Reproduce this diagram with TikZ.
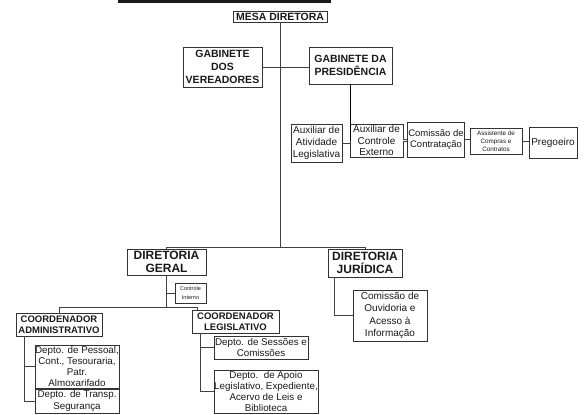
\documentclass[tikz,border=0pt]{standalone}
\usepackage{fontspec}
\setmainfont{Liberation Sans}
\usepackage{xcolor}

\tikzset{
    org/.style={draw=black!80, line width=0.7pt, align=center, inner sep=1pt, text=black!90},
    capbox/.style={org, font=\bfseries\fontsize{10.5}{13}\selectfont},
    dirbox/.style={org, font=\bfseries\fontsize{12}{13.3}\selectfont},
    coordbox/.style={org, font=\bfseries\fontsize{9.5}{10.7}\selectfont},
    unitbox/.style={org, font=\fontsize{9.8}{11.8}\selectfont},
    tinybox/.style={org, font=\fontsize{6.3}{8}\selectfont},
    link/.style={draw=black!75, line width=0.7pt}
}

\begin{document}
\begin{tikzpicture}[x=1pt,y=-1pt]
        \useasboundingbox (0,0) rectangle (584,415);
        \fill[black!90] (118,0) rectangle (331,3);

        \node[capbox, minimum width=94, minimum height=11, inner sep=0.5pt] (mesa) at (280,16.5) {MESA DIRETORA};
        \node[capbox, minimum width=79, minimum height=40] (gabver) at (222.5,67) {GABINETE\\DOS\\VEREADORES};
        \node[capbox, minimum width=83, minimum height=37] (gabpres) at (350.5,65.5) {GABINETE DA\\PRESIDÊNCIA};

        \node[unitbox, font=\fontsize{10}{11.7}\selectfont, minimum width=51, minimum height=38, inner sep=0pt] (auxleg) at (316.5,143) {Auxiliar de\\Atividade\\Legislativa};
        \node[unitbox, font=\fontsize{10}{11.7}\selectfont, minimum width=53, minimum height=33, inner sep=0pt] (auxctrl) at (376.5,140.5) {Auxiliar de\\Controle\\Externo};
        \node[unitbox, font=\fontsize{9.5}{11.7}\selectfont, minimum width=54, minimum height=35] (comcont) at (436,139.5) {Comissão de\\Contratação};
        \node[tinybox, minimum width=52, minimum height=26] (assist) at (496,141) {Assistente de\\Compras e\\Contratos};
        \node[unitbox, font=\fontsize{10}{11.7}\selectfont, minimum width=48, minimum height=31] (preg) at (553,142.5) {Pregoeiro};

        \node[dirbox, minimum width=79, minimum height=26, inner sep=0pt] (dirger) at (166.5,262) {DIRETORIA\\GERAL};
        \node[dirbox, minimum width=74, minimum height=28, inner sep=0pt] (dirjur) at (365,263) {DIRETORIA\\JURÍDICA};
        \node[tinybox, font=\fontsize{5.5}{8.5}\selectfont, minimum width=31, minimum height=20] (ctrlint) at (190.5,293) {Controle\\Interno};

        \node[coordbox, minimum width=86, minimum height=23, inner sep=0.5pt] (coordadm) at (59,324.5) {COORDENADOR\\ADMINISTRATIVO};
        \node[coordbox, minimum width=87, minimum height=23, inner sep=0.5pt] (coordleg) at (235.5,321.5) {COORDENADOR\\LEGISLATIVO};

        \node[unitbox, font=\fontsize{9.8}{11}\selectfont, minimum width=84, minimum height=43, inner sep=0pt] (dpessoal) at (77,366.5) {Depto. de Pessoal,\\Cont., Tesouraria,\\Patr.\\Almoxarifado};
        \node[unitbox, minimum width=84, minimum height=24, inner sep=0pt] (dtransp) at (77,401) {Depto. de Transp.\\Segurança};
        \node[unitbox, minimum width=94, minimum height=23, inner sep=0pt] (dsessoes) at (261,347.5) {Depto. de Sessões e\\Comissões};
        \node[unitbox, font=\fontsize{9.8}{11.2}\selectfont, minimum width=104, minimum height=43, inner sep=0pt] (dapoio) at (266,391.5) {Depto.\ \ de Apoio\\Legislativo, Expediente,\\Acervo de Leis e\\Biblioteca};
        \node[unitbox, font=\fontsize{10}{12.3}\selectfont, minimum width=74, minimum height=51] (ouvid) at (390,315.5) {Comissão de\\Ouvidoria e\\Acesso à\\Informação};

        \coordinate (bus) at (280,247);
        \coordinate (legtap) at (197,307);
        \coordinate (admspine) at ([xshift=9pt]coordadm.south west);
        \coordinate (legspine) at ([xshift=9pt]coordleg.south west);
        \coordinate (jurspine) at ([xshift=7pt]dirjur.south west);

        \draw[link] (mesa) -- (bus);
        \draw[link] (dirger.north) -- (dirger.north |- bus) -- (dirjur.north |- bus) -- (dirjur.north);
        \draw[link] (gabver.east) -- (gabpres.west |- gabver.east);
        \draw[link, line width=1.4pt, draw=black] (gabpres.south) -- (gabpres.south |- auxctrl.west);
        \draw[link] (auxleg.east) -- (auxleg.east -| auxctrl.west);
        \draw[link, double, double distance=1.6pt, line width=0.6pt] (auxctrl.east) -- (auxctrl.east -| comcont.west);
        \draw[link, line width=1.2pt] (comcont.east) -- (comcont.east -| assist.west);
        \draw[link] (assist.east) -- (assist.east -| preg.west);

        \draw[link] (dirger.south) -- (dirger.south |- legtap);
        \draw[link] (ctrlint.west) -- (ctrlint.west -| dirger.south);
        \draw[link] (coordadm.north) -- (coordadm.north |- legtap) -- (legtap) -- (legtap |- coordleg.north);

        \draw[link] (admspine) |- (dtransp.west);
        \draw[link] (dpessoal.west) -- (dpessoal.west -| admspine);
        \draw[link] (legspine) |- (dapoio.west);
        \draw[link] (dsessoes.west) -- (dsessoes.west -| legspine);
        \draw[link] (jurspine) |- (ouvid.west);
    	\end{tikzpicture}
\end{document}
